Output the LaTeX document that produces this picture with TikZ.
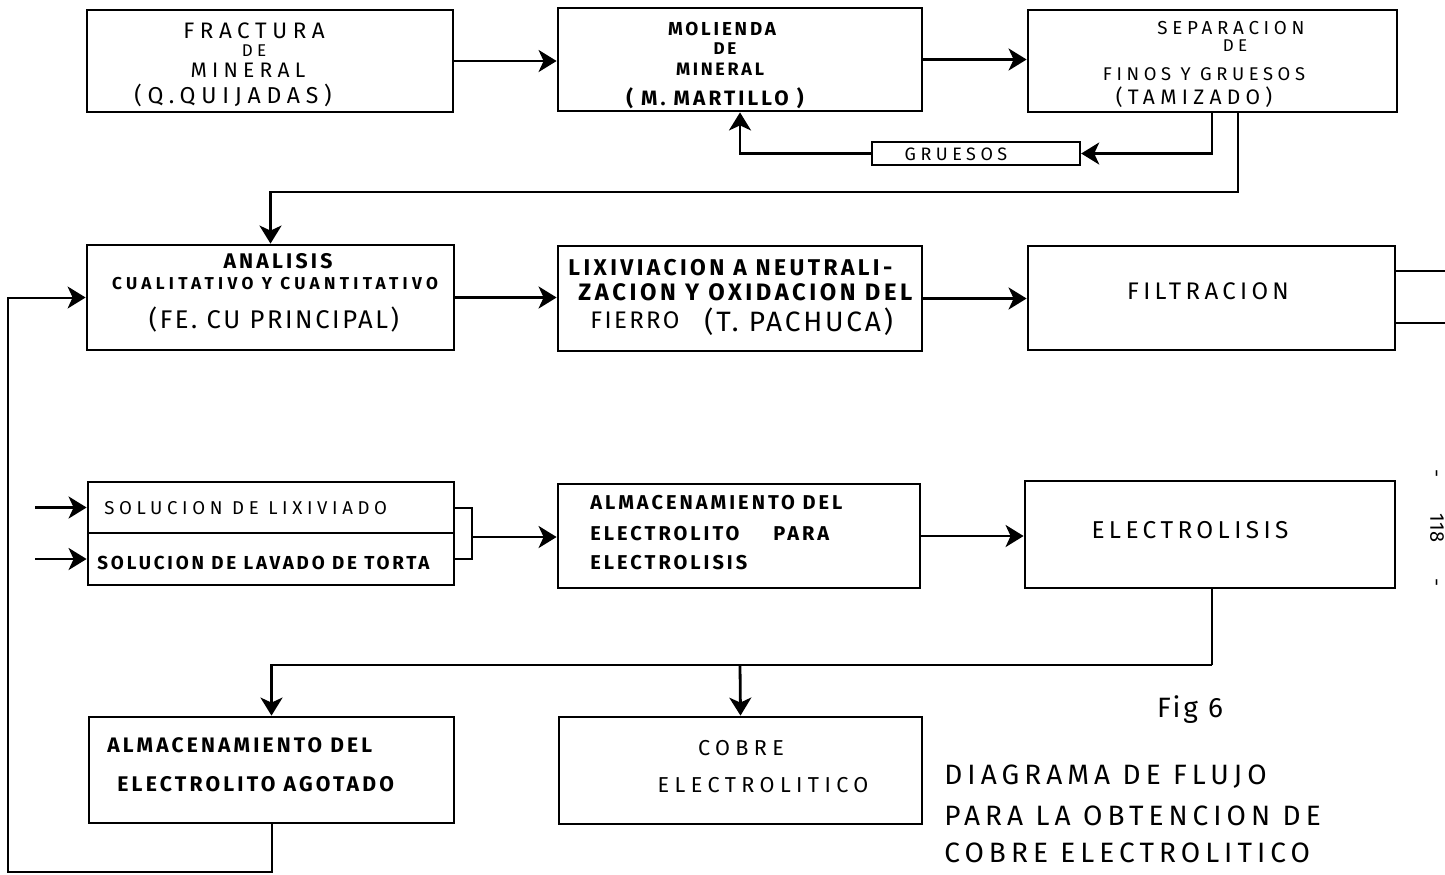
\documentclass[tikz,border=0pt]{standalone}
\usepackage{fontspec}
\setmainfont{Fira Sans}
\newfontfamily\hand[LetterSpace=25]{Fira Sans}
\newfontfamily\handm[LetterSpace=18]{Fira Sans}
\newfontfamily\handn[LetterSpace=10]{Fira Sans}
\newfontfamily\handb[LetterSpace=15]{Fira Sans}
\usetikzlibrary{arrows.meta,fit}
\newcommand\myfs[1]{\fontsize{#1}{#1}\selectfont}
\begin{document}
\begin{tikzpicture}[x=0.5pt,y=-0.5pt,
  box/.style={draw, line width=1.4pt, inner sep=0pt},
  conn/.style={line width=1.4pt},
  thinconn/.style={line width=1pt},
  arr/.style={conn, -{Stealth[length=9pt,width=11pt,inset=2.5pt]}},
  txt/.style={inner sep=0pt, anchor=center},
  ltxt/.style={inner sep=0pt, anchor=west}]
\useasboundingbox (0,0) rectangle (1445,874);
\clip (0,0) rectangle (1445,874);
\fill[white] (0,0) rectangle (1445,874);

% boxes
\node[box, fit={(87,10)(453,112)}] (frac) {};
\node[box, fit={(558,8)(922,111)}] (mol) {};
\node[box, fit={(1028,10)(1397,112)}] (sep) {};
\node[box, line width=1.2pt, fit={(872,142)(1080,165)}] (grue) {};
\node[box, fit={(87,245)(454,350)}] (anal) {};
\node[box, fit={(558,246)(922,351)}] (lix) {};
\node[box, fit={(1028,246)(1395,350)}] (filt) {};
\node[box, fit={(88,482)(454,533)}] (sol1) {};
\node[box, fit={(88,533)(454,585)}] (sol2) {};
\node[box, fit={(558,484)(920,588)}] (alm) {};
\node[box, fit={(1025,481)(1395,588)}] (elec) {};
\node[box, fit={(89,717)(454,823)}] (agot) {};
\node[box, fit={(559,717)(922,824)}] (cobre) {};

% texts
\node[txt] (t1a) at (254,31) {\hand\myfs{11.2}FRACTURA};
\node[txt] (t1b) at (254,51) {\hand\myfs{8.5}DE};
\node[txt] (t1c) at (248,70) {\hand\myfs{10.5}MINERAL};
\node[txt] (t1d) at (233,95) {\hand\myfs{11.5}(Q.QUIJADAS)};

\node[txt] (t2a) at (722,29) {\handb\bfseries\myfs{9.4}MOLIENDA};
\node[txt] (t2b) at (725,49) {\handb\bfseries\myfs{8.5}DE};
\node[txt] (t2c) at (720,69) {\handb\bfseries\myfs{9}MINERAL};
\node[txt] (t2d) at (715,98) {\handb\bfseries\myfs{10.4}( M. MARTILLO )};

\node[txt] (t3a) at (1231,28) {\hand\myfs{9.4}SEPARACION};
\node[txt] (t3b) at (1235,46) {\hand\myfs{8.5}DE};
\node[txt] (t3c) at (1204,74) {\hand\myfs{9.2}FINOS Y GRUESOS};
\node[txt] (t3d) at (1194,97) {\hand\myfs{10.5}(TAMIZADO)};

\node[txt] (t4) at (956,154) {\hand\myfs{9}GRUESOS};

\node[txt] (t5a) at (278,261) {\handb\bfseries\myfs{10.6}ANALISIS};
\node[txt] (t5b) at (275,284) {\hand\bfseries\myfs{8.6}CUALITATIVO Y CUANTITATIVO};
\node[txt] (t5c) at (274,320) {\handn\myfs{12.8}(FE. CU PRINCIPAL)};

\node[ltxt] (t6a) at (568,268) {\handb\bfseries\myfs{11.4}LIXIVIACION A NEUTRALI-};
\node[ltxt] (t6b) at (578,292) {\handb\bfseries\myfs{11.9}ZACION Y OXIDACION DEL};
\node[ltxt] (t6c) at (590,320) {\handn\myfs{12}FIERRO};
\node[ltxt] (t6d) at (704,322) {\handn\myfs{14}(T. PACHUCA)};

\node[txt] (t7) at (1208,291) {\handm\myfs{12}FILTRACION};

\node[ltxt] (t8a) at (104,508) {\hand\myfs{9.3}SOLUCION DE LIXIVIADO};
\node[ltxt] (t8b) at (97,563) {\handb\bfseries\myfs{9.4}SOLUCION DE LAVADO DE TORTA};

\node[ltxt] (t9a) at (590,503) {\handb\bfseries\myfs{10}ALMACENAMIENTO DEL};
\node[ltxt] (t9b) at (590,534) {\handb\bfseries\myfs{10}ELECTROLITO\hspace{17pt}PARA};
\node[ltxt] (t9c) at (590,563) {\handb\bfseries\myfs{10}ELECTROLISIS};

\node[txt] (t10) at (1190,530) {\handm\myfs{12.2}ELECTROLISIS};

\node[ltxt] (t11a) at (107,745) {\handb\bfseries\myfs{10.5}ALMACENAMIENTO DEL};
\node[ltxt] (t11b) at (117,784) {\handb\bfseries\myfs{10.6}ELECTROLITO AGOTADO};

\node[txt] (t12a) at (741,748) {\hand\myfs{10.8}COBRE};
\node[txt] (t12b) at (763,785) {\hand\myfs{10.8}ELECTROLITICO};

\node[txt] (fig) at (1190,710) {\handn\myfs{14}Fig 6};
\node[ltxt] (ti1) at (944,777) {\handm\myfs{14}DIAGRAMA DE FLUJO};
\node[ltxt] (ti2) at (944,816) {\handm\myfs{14}PARA LA OBTENCION DE};
\node[ltxt] (ti3) at (944,853) {\handm\myfs{14}COBRE ELECTROLITICO};

\node[txt, rotate=-90] (pg) at (1437,528) {\myfs{10}-\hspace{18pt}118\hspace{18pt}-};

% coordinates
\coordinate (s1) at (1212,112);
\coordinate (s2) at (1238,112);
\coordinate (f1) at (1445,271);
\coordinate (f2) at (1445,323);
\coordinate (in1) at (35,507.5);
\coordinate (in2) at (35,559);
\coordinate (j) at (472,537);
\coordinate (e1) at (1212,588);
\coordinate (br) at (740,665);
\coordinate (lft) at (8,872);

% connectors
\draw[arr] (frac.east) -- (frac.east -| mol.west);
\draw[arr] (mol.east) -- (mol.east -| sep.west);
\draw[arr] (s1) |- (grue.east);
\draw[arr] (grue.west) -| (mol.south);
\draw[arr] (s2) -- ++(0,80) -| (anal.north);
\draw[arr] (anal.east) -- (anal.east -| lix.west);
\draw[arr] (lix.east) -- (lix.east -| filt.west);
\draw[conn] (filt.east |- f1) -- (f1);
\draw[conn] (filt.east |- f2) -- (f2);
\draw[arr] (in1) -- (sol1.west);
\draw[arr] (in2) -- (sol2.west);
\draw[thinconn] (sol1.east) -| (j) |- (sol2.east);
\draw[arr] (j) -- (j -| alm.west);
\draw[arr] (alm.east) -- (alm.east -| elec.west);
\draw[conn] (e1) -- ++(0,77) coordinate (e2);
\draw[arr] (e2) -| (agot.north);
\draw[arr] (br) -- (cobre.north);
\draw[arr, line width=1pt] (agot.south) |- (lft) |- (anal.west);
\end{tikzpicture}
\end{document}
